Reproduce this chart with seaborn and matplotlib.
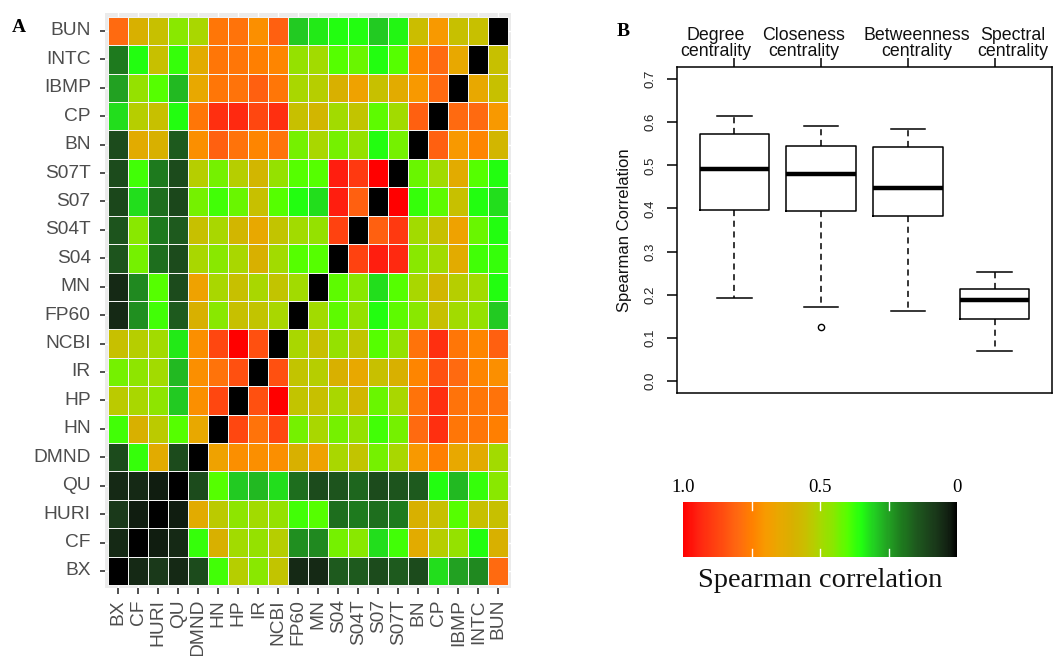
import numpy as np
import pandas as pd
import matplotlib
matplotlib.use("Agg")
import matplotlib.pyplot as plt
import matplotlib.transforms as mtransforms
from matplotlib.colors import LinearSegmentedColormap
import seaborn as sns

# ---------------- data: panel A (correlation heatmap) ----------------
row_labels = ["BUN", "INTC", "IBMP", "CP", "BN", "S07T", "S07", "S04T", "S04", "MN",
              "FP60", "NCBI", "IR", "HP", "HN", "DMND", "QU", "HURI", "CF", "BX"]
col_labels = ["BX", "CF", "HURI", "QU", "DMND", "HN", "HP", "IR", "NCBI", "FP60",
              "MN", "S04", "S04T", "S07", "S07T", "BN", "CP", "IBMP", "INTC", "BUN"]

bun_row  = [0.80, 0.60, 0.55, 0.45, 0.50, 0.77, 0.78, 0.72, 0.82, 0.30, 0.33, 0.35, 0.35, 0.30, 0.34, 0.56, 0.70, 0.55, 0.55, 0.00]
intc_row = [0.20, 0.35, 0.55, 0.37, 0.63, 0.77, 0.77, 0.75, 0.74, 0.47, 0.49, 0.40, 0.42, 0.35, 0.40, 0.74, 0.80, 0.65, 0.00, 0.55]
ibmp_row = [0.25, 0.47, 0.40, 0.28, 0.65, 0.77, 0.78, 0.82, 0.77, 0.50, 0.52, 0.60, 0.67, 0.55, 0.63, 0.70, 0.80, 0.00, 0.65, 0.55]
cp_row   = [0.32, 0.52, 0.55, 0.35, 0.77, 0.92, 0.93, 0.87, 0.92, 0.55, 0.58, 0.49, 0.54, 0.41, 0.49, 0.82, 0.00, 0.80, 0.80, 0.70]
bn_row   = [0.12, 0.63, 0.60, 0.15, 0.72, 0.82, 0.78, 0.74, 0.78, 0.43, 0.50, 0.43, 0.47, 0.35, 0.43, 0.00, 0.82, 0.70, 0.74, 0.58]
s07t_row = [0.12, 0.38, 0.20, 0.12, 0.52, 0.43, 0.52, 0.58, 0.47, 0.40, 0.40, 0.95, 0.90, 1.00, 0.00, 0.42, 0.49, 0.63, 0.40, 0.35]
s07_row  = [0.11, 0.32, 0.18, 0.11, 0.43, 0.38, 0.42, 0.55, 0.40, 0.35, 0.32, 0.95, 0.82, 0.00, 1.00, 0.37, 0.41, 0.55, 0.35, 0.32]
s04t_row = [0.14, 0.45, 0.20, 0.15, 0.55, 0.50, 0.58, 0.65, 0.54, 0.49, 0.47, 0.88, 0.00, 0.82, 0.90, 0.49, 0.55, 0.67, 0.42, 0.35]
s04_row  = [0.14, 0.43, 0.18, 0.12, 0.50, 0.45, 0.50, 0.60, 0.49, 0.40, 0.40, 0.00, 0.88, 0.95, 0.93, 0.45, 0.49, 0.63, 0.38, 0.37]
mn_row   = [0.05, 0.22, 0.40, 0.12, 0.67, 0.50, 0.55, 0.50, 0.54, 0.49, 0.00, 0.41, 0.45, 0.32, 0.40, 0.50, 0.58, 0.52, 0.49, 0.35]
fp60_row = [0.05, 0.23, 0.38, 0.15, 0.60, 0.45, 0.55, 0.54, 0.50, 0.00, 0.49, 0.41, 0.47, 0.35, 0.41, 0.45, 0.55, 0.49, 0.47, 0.30]
ncbi_row = [0.55, 0.52, 0.49, 0.33, 0.72, 0.87, 1.00, 0.85, 0.00, 0.50, 0.55, 0.47, 0.54, 0.40, 0.47, 0.78, 0.92, 0.77, 0.74, 0.82]
ir_row   = [0.43, 0.46, 0.49, 0.28, 0.72, 0.78, 0.85, 0.00, 0.85, 0.54, 0.52, 0.60, 0.65, 0.55, 0.60, 0.74, 0.85, 0.80, 0.74, 0.72]
hp_row   = [0.53, 0.50, 0.46, 0.30, 0.72, 0.87, 0.00, 0.85, 1.00, 0.54, 0.55, 0.50, 0.58, 0.42, 0.50, 0.78, 0.92, 0.78, 0.77, 0.78]
hn_row   = [0.38, 0.60, 0.53, 0.40, 0.65, 0.00, 0.87, 0.78, 0.87, 0.43, 0.50, 0.43, 0.47, 0.38, 0.43, 0.80, 0.92, 0.77, 0.77, 0.75]
dmnd_row = [0.12, 0.37, 0.63, 0.12, 0.00, 0.67, 0.72, 0.72, 0.72, 0.60, 0.67, 0.50, 0.54, 0.43, 0.50, 0.70, 0.75, 0.65, 0.63, 0.49]
qu_row   = [0.05, 0.05, 0.03, 0.00, 0.12, 0.40, 0.30, 0.28, 0.32, 0.18, 0.12, 0.14, 0.17, 0.12, 0.14, 0.15, 0.35, 0.28, 0.37, 0.45]
huri_row = [0.08, 0.03, 0.00, 0.03, 0.63, 0.53, 0.46, 0.49, 0.47, 0.38, 0.40, 0.18, 0.20, 0.18, 0.20, 0.60, 0.55, 0.40, 0.55, 0.55]
cf_row   = [0.05, 0.00, 0.03, 0.05, 0.37, 0.60, 0.49, 0.47, 0.52, 0.23, 0.22, 0.43, 0.45, 0.32, 0.38, 0.63, 0.52, 0.47, 0.35, 0.60]
bx_row   = [0.00, 0.05, 0.08, 0.05, 0.12, 0.38, 0.52, 0.45, 0.54, 0.05, 0.05, 0.15, 0.15, 0.12, 0.15, 0.12, 0.32, 0.25, 0.22, 0.80]

# ---------------- data: panel B (boxplot summaries) ----------------
box_groups = ["Degree\ncentrality", "Closeness\ncentrality",
              "Betweenness\ncentrality", "Spectral\ncentrality"]
box_whislo = [0.192, 0.172, 0.163, 0.069]
box_q1     = [0.396, 0.394, 0.382, 0.144]
box_med    = [0.491, 0.481, 0.447, 0.188]
box_q3     = [0.573, 0.545, 0.542, 0.214]
box_whishi = [0.615, 0.592, 0.584, 0.253]
box_fliers = [[], [0.124], [], []]
y_ticks    = [0.0, 0.1, 0.2, 0.3, 0.4, 0.5, 0.6, 0.7]

# colour scale tick labels
cbar_ticks = [1.0, 0.5, 0.0]
cbar_ticklabels = ["1.0", "0.5", "0"]

# ---------------- styling ----------------
sans = ["Liberation Sans", "DejaVu Sans"]
serif = ["Liberation Serif", "DejaVu Serif"]

cmap_anchors = [(0.00, "#000000"), (0.03, "#122012"), (0.05, "#152A15"), (0.08, "#1A3A1A"),
                (0.12, "#1C4C1C"), (0.15, "#1E5A1E"), (0.18, "#1E6E1E"), (0.20, "#1E7A1E"),
                (0.25, "#22A022"), (0.30, "#22CC22"), (0.35, "#22FF10"), (0.40, "#55FF00"),
                (0.45, "#88E800"), (0.50, "#A8D800"), (0.55, "#C8C000"), (0.60, "#D8B000"),
                (0.65, "#E8A800"), (0.70, "#F89A00"), (0.75, "#FF8000"), (0.80, "#FF6A10"),
                (0.85, "#FF5010"), (0.90, "#FF3A10"), (0.95, "#FF2010"), (1.00, "#FF0000")]
cmap = LinearSegmentedColormap.from_list("corr", cmap_anchors)

plt.rcParams["font.family"] = sans

W, H = 1053, 656
fig = plt.figure(figsize=(W / 100, H / 100), dpi=100)

# ---------------- panel A ----------------
matrix = pd.DataFrame([bun_row, intc_row, ibmp_row, cp_row, bn_row, s07t_row, s07_row,
                       s04t_row, s04_row, mn_row, fp60_row, ncbi_row, ir_row, hp_row,
                       hn_row, dmnd_row, qu_row, huri_row, cf_row, bx_row],
                      index=row_labels, columns=col_labels)

axA = fig.add_axes([105.3 / W, (H - 588) / H, 406 / W, 574.7 / H])
axA.set_facecolor("#EBEBEB")
sns.heatmap(matrix, ax=axA, cmap=cmap, vmin=0, vmax=1, cbar=False,
            linewidths=0.7, linecolor="#F4F4F4", square=False)
axA.set_xlim(-0.15, 20.15)
axA.set_ylim(20.1, -0.12)
axA.set_axisbelow(True)
axA.grid(True, color="white", lw=1.0)
axA.set_xlabel("")
axA.set_ylabel("")
axA.set_xticklabels(col_labels, rotation=90, fontsize=13.8, color="#4D4D4D", family=sans)
axA.set_yticklabels(row_labels, rotation=0, fontsize=13.8, color="#4D4D4D", family=sans)
axA.tick_params(axis="y", length=3.5, width=1.2, color="#333333", pad=7)
axA.tick_params(axis="x", length=4, width=1.2, color="#333333", pad=4)
for s in axA.spines.values():
    s.set_visible(False)

# ---------------- colour bar ----------------
cax = fig.add_axes([683 / W, (H - 557) / H, 274 / W, 55 / H])
cb = fig.colorbar(axA.collections[0], cax=cax, orientation="horizontal")
cb.outline.set_visible(False)
cax.invert_xaxis()
cax.xaxis.set_ticks_position("top")
cax.set_xticks(cbar_ticks)
cax.set_xticklabels(cbar_ticklabels, family=serif, fontsize=13.5)
cax.tick_params(axis="x", length=0, pad=4)
for v in (0.75, 0.5, 0.25):
    cax.axvline(v, ymin=0, ymax=0.14, color="white", lw=1)
    cax.axvline(v, ymin=0.86, ymax=1, color="white", lw=1)
cax.text(0.5, -0.2, "Spearman correlation", transform=cax.transAxes,
         ha="center", va="top", fontsize=20.5, family=serif, color="#111111")

# ---------------- panel B ----------------
axB = fig.add_axes([677 / W, (H - 393) / H, 375 / W, 326 / H])
stats = []
for i in range(len(box_groups)):
    stats.append(dict(med=box_med[i], q1=box_q1[i], q3=box_q3[i],
                      whislo=box_whislo[i], whishi=box_whishi[i],
                      fliers=box_fliers[i], label=box_groups[i]))
axB.bxp(stats, positions=[1, 2, 3, 4], widths=0.8, capwidths=0.4,
        showfliers=True, patch_artist=False,
        boxprops=dict(color="black", lw=1.1),
        medianprops=dict(color="black", lw=3.2, solid_capstyle="butt"),
        whiskerprops=dict(color="black", lw=1.1, linestyle=(0, (4, 3))),
        capprops=dict(color="black", lw=1.1),
        flierprops=dict(marker="o", markersize=4.5, markerfacecolor="none",
                        markeredgecolor="black", markeredgewidth=1))
axB.set_xlim(0.34, 4.66)
axB.set_ylim(-0.028, 0.728)
for s in axB.spines.values():
    s.set_visible(True)
    s.set_color("black")
    s.set_linewidth(1.1)
axB.xaxis.tick_top()
axB.set_xticks([1, 2, 3, 4])
axB.set_xticklabels(["", "", "", ""])
axB.tick_params(axis="x", length=6.5, width=1.1, color="black")
axB.set_yticks(y_ticks)
axB.set_yticklabels([f"{v:.1f}" for v in y_ticks], rotation=90, va="center",
                    fontsize=9.5, color="#222222")
axB.tick_params(axis="y", length=7, width=1.1, color="black", pad=8)
axB.set_ylabel("Spearman Correlation", fontsize=12, labelpad=9, color="#111111")

label_x = [0.79, 1.80, 3.10, 4.21]
trans = mtransforms.blended_transform_factory(axB.transData, axB.transAxes)
for x, lab in zip(label_x, box_groups):
    axB.text(x, 1.022, lab, transform=trans, ha="center", va="bottom",
             fontsize=12.8, linespacing=0.92, color="#111111", multialignment="center")

# panel letters
fig.text(19 / W, 1 - 27 / H, "A", ha="center", va="center", fontsize=14,
         fontweight="bold", family=serif)
fig.text(623 / W, 1 - 32 / H, "B", ha="center", va="center", fontsize=14,
         fontweight="bold", family=serif)

fig.savefig("out.png", dpi=100)
